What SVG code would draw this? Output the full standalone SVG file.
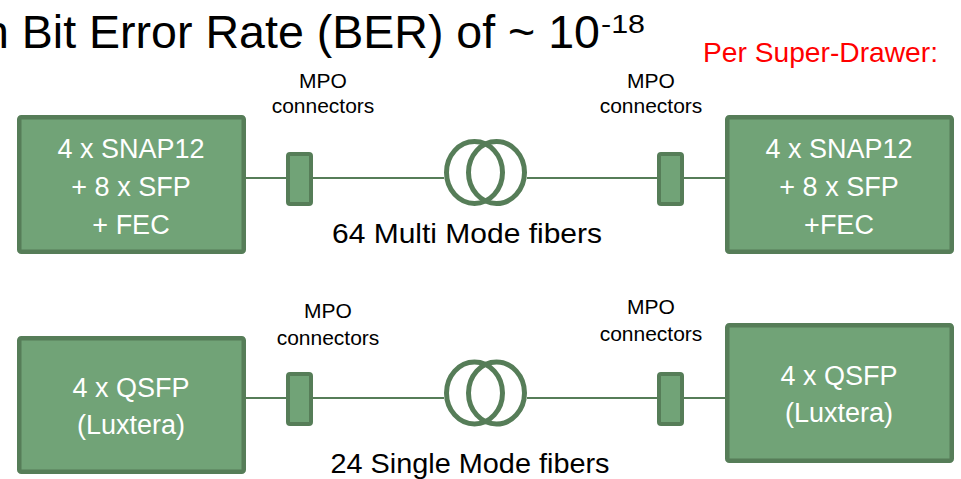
<svg xmlns="http://www.w3.org/2000/svg" width="961" height="479" viewBox="0 0 961 479">
<style>
text{font-family:"Liberation Sans",Arial,sans-serif;}
.box{fill:#71a377;stroke:#567d58;stroke-width:4.5;}
.mpo{fill:#71a377;stroke:#567d58;stroke-width:4;}
.wire{stroke:#567d58;stroke-width:2.2;fill:none;}
.ring{fill:none;stroke:#567d58;stroke-width:5;}
.bt{fill:#ffffff;font-size:27px;text-anchor:middle;}
.lbl{fill:#000000;font-size:21px;text-anchor:middle;}
.fib{fill:#000000;font-size:28px;text-anchor:middle;}
</style>
<rect width="961" height="479" fill="#ffffff"/>
<g id="title">
<text font-size="46" fill="#000"><tspan x="-17" y="48" textLength="617" lengthAdjust="spacingAndGlyphs">n Bit Error Rate (BER) of ~ 10</tspan><tspan x="601" y="33" font-size="25" textLength="44" lengthAdjust="spacingAndGlyphs">-18</tspan></text>
</g>
<g id="per-super-drawer">
<text x="703" y="62" font-size="28" fill="#ff0000" textLength="235" lengthAdjust="spacingAndGlyphs">Per Super-Drawer:</text>
</g>
<g id="connectors">
<line class="wire" x1="246" y1="178" x2="444" y2="178"/>
<line class="wire" x1="527" y1="178" x2="725" y2="178"/>
<line class="wire" x1="246" y1="398" x2="444" y2="398"/>
<line class="wire" x1="527" y1="398" x2="725" y2="398"/>
</g>
<g id="box-top-left">
<rect class="box" x="19.25" y="117.25" width="224.5" height="134.5" rx="2"/>
<text class="bt" x="131" y="158">4 x SNAP12</text>
<text class="bt" x="131" y="196">+ 8 x SFP</text>
<text class="bt" x="131" y="234">+ FEC</text>
</g>
<g id="box-top-right">
<rect class="box" x="727.25" y="117.25" width="224.5" height="134.5" rx="2"/>
<text class="bt" x="839" y="158">4 x SNAP12</text>
<text class="bt" x="839" y="196">+ 8 x SFP</text>
<text class="bt" x="839" y="234">+FEC</text>
</g>
<g id="box-bottom-left">
<rect class="box" x="19.25" y="338.25" width="224.5" height="133.5" rx="2"/>
<text class="bt" x="131" y="397">4 x QSFP</text>
<text class="bt" x="131" y="434">(Luxtera)</text>
</g>
<g id="box-bottom-right">
<rect class="box" x="727.25" y="325.25" width="224.5" height="135.5" rx="2"/>
<text class="bt" x="839" y="385">4 x QSFP</text>
<text class="bt" x="839" y="422">(Luxtera)</text>
</g>
<g id="mpo-top-left">
<rect class="mpo" x="288" y="154" width="23" height="50" rx="2"/>
<text class="lbl" x="323" y="88">MPO</text>
<text class="lbl" x="323" y="113">connectors</text>
</g>
<g id="mpo-top-right">
<rect class="mpo" x="659" y="154" width="23" height="50" rx="2"/>
<text class="lbl" x="651" y="88">MPO</text>
<text class="lbl" x="651" y="113">connectors</text>
</g>
<g id="mpo-bottom-left">
<rect class="mpo" x="288" y="374" width="23" height="50" rx="2"/>
<text class="lbl" x="328" y="318">MPO</text>
<text class="lbl" x="328" y="345">connectors</text>
</g>
<g id="mpo-bottom-right">
<rect class="mpo" x="659" y="374" width="23" height="50" rx="2"/>
<text class="lbl" x="651" y="314">MPO</text>
<text class="lbl" x="651" y="341">connectors</text>
</g>
<g id="fiber-top">
<ellipse class="ring" cx="474.5" cy="172.5" rx="28" ry="31"/>
<ellipse class="ring" cx="496.5" cy="172.5" rx="28" ry="31"/>
<text class="fib" x="467" y="243" textLength="270" lengthAdjust="spacingAndGlyphs">64 Multi Mode fibers</text>
</g>
<g id="fiber-bottom">
<ellipse class="ring" cx="474.5" cy="393" rx="28" ry="31"/>
<ellipse class="ring" cx="496.5" cy="393" rx="28" ry="31"/>
<text class="fib" x="470" y="473" textLength="279" lengthAdjust="spacingAndGlyphs">24 Single Mode fibers</text>
</g>
</svg>
